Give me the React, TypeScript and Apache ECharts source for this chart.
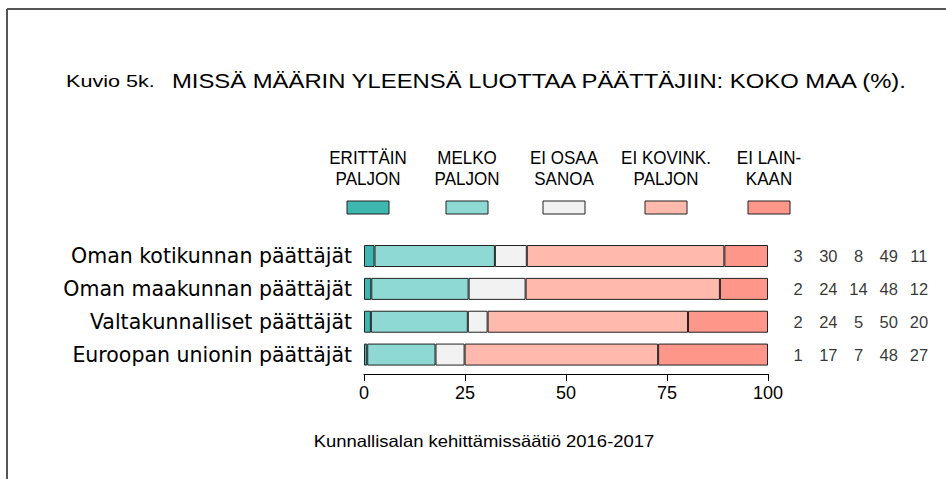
import React, { useEffect, useRef } from "react";
import * as echarts from "echarts";

const categories = [
  "Oman kotikunnan päättäjät",
  "Oman maakunnan päättäjät",
  "Valtakunnalliset päättäjät",
  "Euroopan unionin päättäjät",
];
const seriesNames = ["ERITTÄIN\nPALJON", "MELKO\nPALJON", "EI OSAA\nSANOA", "EI KOVINK.\nPALJON", "EI LAIN-\nKAAN"];
const erittainPaljon = [2.6, 1.8, 1.7, 0.8];
const melkoPaljon = [29.8, 24.1, 24.0, 16.9];
const eiOsaaSanoa = [7.9, 14.1, 4.9, 7.2];
const eiKovinkaanPaljon = [48.9, 48.1, 49.6, 47.9];
const eiLainkaan = [10.8, 11.9, 19.8, 27.2];
const shownValues = [
  [3, 30, 8, 49, 11],
  [2, 24, 14, 48, 12],
  [2, 24, 5, 50, 20],
  [1, 17, 7, 48, 27],
];
const valueColumns = ["c1", "c2", "c3", "c4", "c5"];
const colors = ["#3fb7b1", "#8ed9d3", "#f2f2f2", "#ffb9ad", "#fe968a"];
const titleText = "MISSÄ MÄÄRIN YLEENSÄ LUOTTAA PÄÄTTÄJIIN: KOKO MAA (%).";
const figureText = "Kuvio 5k.";
const sourceText = "Kunnallisalan kehittämissäätiö 2016-2017";

const FONT = "'Liberation Sans', Arial, sans-serif";

export default function App() {
  const ref = useRef<HTMLDivElement>(null);
  useEffect(() => {
    document.body.style.margin = "0";
    const chart = echarts.init(ref.current!, null, { renderer: "svg" });
    const seriesData = [erittainPaljon, melkoPaljon, eiOsaaSanoa, eiKovinkaanPaljon, eiLainkaan];
    const legendCenters = [368, 467, 564, 666, 769];
    const legendGraphics: any[] = [];
    seriesNames.forEach((n, i) => {
      legendGraphics.push({
        type: "text",
        x: legendCenters[i],
        y: 147,
        scaleX: 0.92,
        style: {
          text: n,
          fontSize: 18.5,
          fontFamily: FONT,
          fill: "#000",
          align: "center",
          verticalAlign: "top",
          lineHeight: 21,
        },
      });
      legendGraphics.push({
        type: "rect",
        shape: { x: legendCenters[i] - 21, y: 201, width: 42, height: 13 },
        style: { fill: colors[i], stroke: "#222", lineWidth: 1 },
      });
    });

    const scatterData: any[] = [];
    shownValues.forEach((row, r) => row.forEach((v, c) => scatterData.push([c, r, v])));

    chart.setOption({
      animation: false,
      textStyle: { fontFamily: FONT },
      grid: [
        { left: 364, top: 239.6, width: 404, height: 131.4 },
        { left: 783, top: 239.6, width: 151, height: 131.4 },
      ],
      xAxis: [
        {
          gridIndex: 0,
          type: "value",
          min: 0,
          max: 100,
          interval: 25,
          offset: 3,
          axisLine: { show: true, lineStyle: { color: "#000", width: 1 } },
          axisTick: { show: true, length: 7, lineStyle: { color: "#000" } },
          axisLabel: { fontSize: 18, color: "#000", margin: 10, fontFamily: FONT },
          splitLine: { show: false },
        },
        { gridIndex: 1, type: "category", data: valueColumns, show: false },
      ],
      yAxis: [
        {
          gridIndex: 0,
          type: "category",
          data: categories,
          inverse: true,
          axisLine: { show: false },
          axisTick: { show: false },
          axisLabel: { margin: 12, fontSize: 20.5, color: "#000", fontFamily: "'DejaVu Sans', sans-serif" },
        },
        { gridIndex: 1, type: "category", data: categories, inverse: true, show: false },
      ],
      series: [
        ...seriesData.map((d, i) => ({
          type: "bar",
          name: seriesNames[i],
          stack: "total",
          xAxisIndex: 0,
          yAxisIndex: 0,
          barWidth: 22,
          data: d,
          itemStyle: { color: colors[i], borderColor: "#222", borderWidth: 1 },
        })),
        {
          type: "scatter",
          xAxisIndex: 1,
          yAxisIndex: 1,
          symbolSize: 1,
          itemStyle: { color: "transparent" },
          data: scatterData,
          label: {
            show: true,
            position: "inside",
            formatter: (p: any) => String(p.value[2]),
            fontSize: 16.5,
            color: "#000",
            fontFamily: FONT,
          },
        },
      ],
      graphic: [
        { type: "line", shape: { x1: 7, y1: 9, x2: 946, y2: 9 }, style: { stroke: "#555", lineWidth: 2 } },
        { type: "line", shape: { x1: 7, y1: 9, x2: 7, y2: 479 }, style: { stroke: "#555", lineWidth: 2 } },
        {
          type: "text",
          x: 66,
          y: 81,
          scaleX: 1.27,
          style: { text: figureText, fontSize: 17, fontFamily: FONT, fill: "#000", align: "left", verticalAlign: "middle" },
        },
        {
          type: "text",
          x: 172,
          y: 81,
          scaleX: 1.135,
          style: { text: titleText, fontSize: 21, fontFamily: FONT, fill: "#000", align: "left", verticalAlign: "middle" },
        },
        {
          type: "text",
          x: 484,
          y: 441,
          scaleX: 1.12,
          style: { text: sourceText, fontSize: 16.5, fontFamily: FONT, fill: "#000", align: "center", verticalAlign: "middle" },
        },
        ...legendGraphics,
      ],
    });
    return () => chart.dispose();
  }, []);
  return <div ref={ref} style={{ width: 946, height: 479 }} />;
}
